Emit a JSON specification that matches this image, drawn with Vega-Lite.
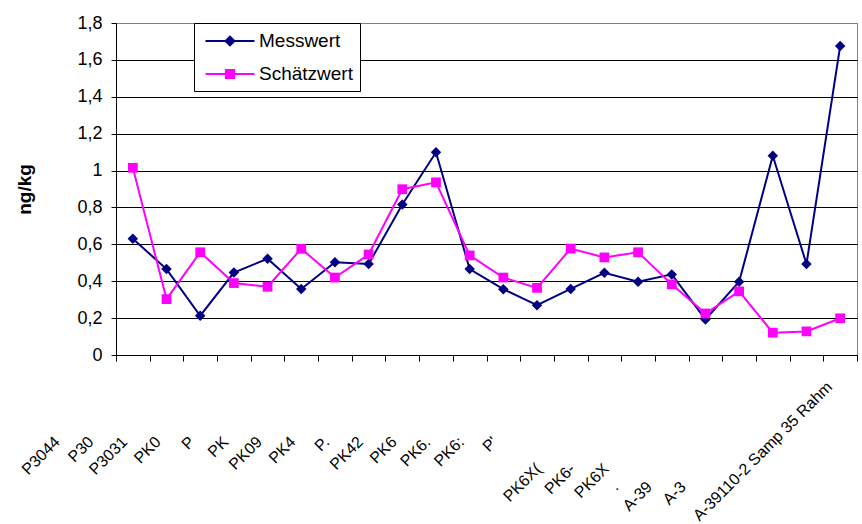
{
  "$schema": "https://vega.github.io/schema/vega-lite/v6.json",
  "width": 741,
  "height": 332,
  "autosize": {"type": "none"},
  "padding": {"left": 116, "top": 23, "right": 5, "bottom": 169},
  "background": "white",
  "config": {
    "view": {"stroke": "#808080", "strokeWidth": 1},
    "font": "Liberation Sans"
  },
  "data": {
    "values": [
      {"Nr": 1, "Probe": "P3044", "Messwert": 0.63, "Schätzwert": 1.015},
      {"Nr": 2, "Probe": "P30", "Messwert": 0.466, "Schätzwert": 0.303},
      {"Nr": 3, "Probe": "P3031", "Messwert": 0.213, "Schätzwert": 0.557},
      {"Nr": 4, "Probe": "PK0", "Messwert": 0.447, "Schätzwert": 0.39},
      {"Nr": 5, "Probe": "P", "Messwert": 0.522, "Schätzwert": 0.37},
      {"Nr": 6, "Probe": "PK", "Messwert": 0.358, "Schätzwert": 0.576},
      {"Nr": 7, "Probe": "PK09", "Messwert": 0.503, "Schätzwert": 0.42},
      {"Nr": 8, "Probe": "PK4", "Messwert": 0.493, "Schätzwert": 0.545},
      {"Nr": 9, "Probe": "P.", "Messwert": 0.816, "Schätzwert": 0.899},
      {"Nr": 10, "Probe": "PK42", "Messwert": 1.099, "Schätzwert": 0.936},
      {"Nr": 11, "Probe": "PK6", "Messwert": 0.466, "Schätzwert": 0.54},
      {"Nr": 12, "Probe": "PK6.", "Messwert": 0.357, "Schätzwert": 0.42},
      {"Nr": 13, "Probe": "PK6:", "Messwert": 0.27, "Schätzwert": 0.364},
      {"Nr": 14, "Probe": "P'", "Messwert": 0.358, "Schätzwert": 0.577},
      {"Nr": 15, "Probe": "PK6X(", "Messwert": 0.446, "Schätzwert": 0.529},
      {"Nr": 16, "Probe": "PK6-", "Messwert": 0.397, "Schätzwert": 0.557},
      {"Nr": 17, "Probe": "PK6X", "Messwert": 0.437, "Schätzwert": 0.383},
      {"Nr": 18, "Probe": ".", "Messwert": 0.193, "Schätzwert": 0.225},
      {"Nr": 19, "Probe": "A-39", "Messwert": 0.397, "Schätzwert": 0.345},
      {"Nr": 20, "Probe": "A-3", "Messwert": 1.08, "Schätzwert": 0.121},
      {"Nr": 21, "Probe": " ", "Messwert": 0.493, "Schätzwert": 0.128},
      {"Nr": 22, "Probe": "A-39110-2 Samp 35 Rahm", "Messwert": 1.675, "Schätzwert": 0.199}
    ]
  },
  "transform": [{"fold": ["Messwert", "Schätzwert"], "as": ["Serie", "Wert"]}],
  "encoding": {
    "x": {
      "field": "Probe",
      "type": "nominal",
      "sort": null,
      "scale": {"type": "band", "paddingInner": 0, "paddingOuter": 0},
      "axis": {
        "title": null,
        "grid": false,
        "labelAngle": -45,
        "labelAlign": "right",
        "labelBaseline": "middle",
        "labelFont": "Liberation Sans",
        "labelFontSize": 16,
        "labelColor": "black",
        "labelLimit": 400,
        "labelOverlap": false,
        "tickBand": "extent",
        "tickSize": 6,
        "tickColor": "black",
        "domainColor": "black",
        "labelOffset": {
          "condition": [
            {"test": "datum.value === 'A-39110-2 Samp 35 Rahm'", "value": -11},
            {"test": "datum.value === 'PK6X(' || datum.value === 'PK6-' || datum.value === 'PK6X'", "value": -66},
            {"test": "datum.value === '.' || datum.value === 'A-39' || datum.value === 'A-3'", "value": -90}
          ],
          "value": -76
        },
        "labelPadding": {
          "condition": [
            {"test": "datum.value === 'A-39110-2 Samp 35 Rahm'", "value": 23},
            {"test": "datum.value === 'PK6X(' || datum.value === 'PK6-' || datum.value === 'PK6X'", "value": 105},
            {"test": "datum.value === '.' || datum.value === 'A-39' || datum.value === 'A-3'", "value": 123}
          ],
          "value": 78
        }
      }
    },
    "y": {
      "field": "Wert",
      "type": "quantitative",
      "scale": {"domain": [0, 1.8], "nice": false, "zero": true},
      "axis": {
        "values": [0, 0.2, 0.4, 0.6, 0.8, 1, 1.2, 1.4, 1.6, 1.8],
        "labelExpr": "replace(format(datum.value, '.1~f'), '.', ',')",
        "title": "ng/kg",
        "titleFont": "Liberation Sans",
        "titleFontSize": 19,
        "titleFontWeight": "bold",
        "titleColor": "black",
        "titlePadding": 42,
        "labelFont": "Liberation Sans",
        "labelFontSize": 18,
        "labelColor": "black",
        "labelPadding": 9,
        "tickSize": 5,
        "tickColor": "black",
        "domainColor": "black",
        "grid": true,
        "gridWidth": 1,
        "gridColor": {"condition": {"test": "datum.value > 1.79", "value": "#808080"}, "value": "black"}
      }
    },
    "color": {
      "field": "Serie",
      "type": "nominal",
      "scale": {"domain": ["Messwert", "Schätzwert"], "range": ["#000080", "#FF00FF"]},
      "legend": {
        "orient": "none",
        "legendX": 78,
        "legendY": 0,
        "title": null,
        "strokeColor": "black",
        "fillColor": "white",
        "padding": 7,
        "labelFont": "Liberation Sans",
        "labelFontSize": 19,
        "labelColor": "black",
        "symbolSize": 384,
        "symbolOffset": 18,
        "labelOffset": 18,
        "rowPadding": 12,
        "symbolStrokeWidth": 2,
        "encode": {
          "symbols": {
            "update": {
              "shape": {"signal": "datum.value === 'Messwert' ? 'M-2.5,0H2.5M0,-0.45L0.45,0L0,0.45L-0.45,0Z' : 'M-2.5,0H2.5M-0.42,-0.42H0.42V0.42H-0.42Z'"},
              "fill": {"scale": "color", "field": "value"},
              "stroke": {"scale": "color", "field": "value"},
              "strokeWidth": {"value": 2},
              "opacity": {"value": 1}
            }
          }
        }
      }
    }
  },
  "layer": [
    {
      "mark": {"type": "line", "strokeWidth": 2},
      "encoding": {"order": {"field": "Nr", "type": "quantitative"}}
    },
    {
      "transform": [{"filter": "datum.Serie === 'Messwert'"}],
      "mark": {"type": "point", "filled": true, "opacity": 1, "size": 110, "shape": "diamond"}
    },
    {
      "transform": [{"filter": "datum.Serie === 'Schätzwert'"}],
      "mark": {"type": "point", "filled": true, "opacity": 1, "size": 95, "shape": "square"}
    }
  ]
}
